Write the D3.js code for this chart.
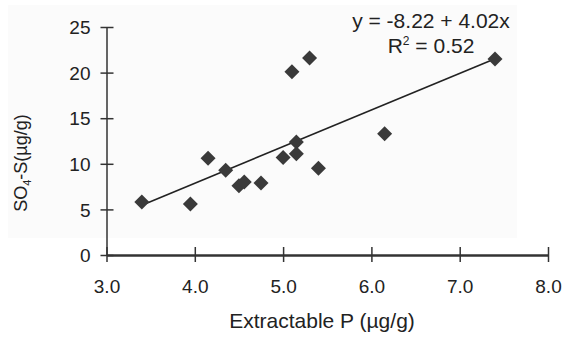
<!DOCTYPE html>
<html lang="en">
<head>
  <meta charset="UTF-8">
  <title>scatter</title>
  <script src="https://cdn.jsdelivr.net/npm/d3@7"></script>
  <style>
    body { margin: 0; background: #fff; }
    text { font-family: 'Liberation Sans', Arial, sans-serif; }
  </style>
</head>
<body>
<script>
  // data
  const xValues = [3.4, 3.95, 4.15, 4.35, 4.5, 4.56, 4.75, 5.0, 5.1, 5.15, 5.15, 5.3, 5.4, 6.15, 7.4]
  const yValues = [5.8, 5.6, 10.6, 9.3, 7.6, 8.0, 7.9, 10.7, 20.1, 12.4, 11.1, 21.6, 9.5, 13.3, 21.5]
  const xTicks = [3, 4, 5, 6, 7, 8]
  const yTicks = [0, 5, 10, 15, 20, 25]
  const fit = { a: -8.22, b: 4.02, r2: 0.52 }

  const width = 567
  const height = 337
  const inkColor = '#333'

  const svg = d3.select('body').append('svg').attr('width', width).attr('height', height)

  const x = d3.scaleLinear().domain([3, 8]).range([106.5, 548])
  const y = d3.scaleLinear().domain([0, 25]).range([255, 27])

  // faint scan background
  svg.append('rect')
    .attr('x', 8).attr('y', 5).attr('width', 509).attr('height', 233)
    .attr('fill', '#fbfbfb')

  const xAxis = g => g
    .attr('transform', `translate(0,${y(0)})`)
    .call(d3.axisBottom(x).tickValues(xTicks).tickFormat(d3.format('.1f')).tickSize(7).tickSizeOuter(0))
    .call(g => g.select('.domain').attr('stroke', inkColor).attr('stroke-width', 2.5))
    .call(g => g.selectAll('line').attr('stroke', inkColor).attr('stroke-width', 1.5).attr('y1', -8).attr('y2', 7))
    .call(g => g.selectAll('text')
      .attr('y', 38).attr('dy', null)
      .style('font-size', '19px').attr('fill', '#222'))

  const yAxis = g => g
    .attr('transform', `translate(${x(3)},0)`)
    .call(d3.axisLeft(y).tickValues(yTicks).tickSize(7).tickSizeOuter(0))
    .call(g => g.select('.domain').attr('stroke', inkColor).attr('stroke-width', 1.5))
    .call(g => g.selectAll('line').attr('stroke', inkColor).attr('stroke-width', 1.5).attr('x1', 7).attr('x2', -6))
    .call(g => g.selectAll('text')
      .attr('x', -16).attr('dy', '0.35em')
      .style('font-size', '19px').attr('fill', '#222'))

  svg.append('g').call(yAxis)
  svg.append('g').call(xAxis)

  // regression line
  const xMin = d3.min(xValues), xMax = d3.max(xValues)
  svg.append('line')
    .attr('x1', x(xMin)).attr('y1', y(fit.a + fit.b * xMin))
    .attr('x2', x(xMax)).attr('y2', y(fit.a + fit.b * xMax))
    .attr('stroke', '#222').attr('stroke-width', 1.6)

  // points
  svg.append('g')
    .selectAll('path')
    .data(xValues.map((d, i) => [d, yValues[i]]))
    .join('path')
    .attr('transform', d => `translate(${x(d[0])},${y(d[1])})`)
    .attr('d', 'M0,-7.5L7.5,0L0,7.5L-7.5,0Z')
    .attr('fill', '#3a3a3a')

  // equation
  svg.append('text')
    .attr('x', 431).attr('y', 28)
    .attr('text-anchor', 'middle')
    .style('font-size', '21px').attr('fill', '#222')
    .text(`y = ${fit.a} + ${fit.b.toFixed(2)}x`)
  const r2 = svg.append('text')
    .attr('x', 431).attr('y', 53)
    .attr('text-anchor', 'middle')
    .style('font-size', '21px').attr('fill', '#222')
  r2.append('tspan').text('R')
  r2.append('tspan').text('2').style('font-size', '12px').attr('dy', -8)
  r2.append('tspan').text(` = ${fit.r2.toFixed(2)}`).attr('dy', 8)

  // axis titles
  svg.append('text')
    .attr('x', 322).attr('y', 328)
    .attr('text-anchor', 'middle')
    .style('font-size', '21px').attr('fill', '#222')
    .text('Extractable P (\u00b5g/g)')

  const yTitle = svg.append('text')
    .attr('transform', 'translate(27,163) rotate(-90)')
    .attr('text-anchor', 'middle')
    .style('font-size', '18px').attr('fill', '#222')
  yTitle.append('tspan').text('SO')
  yTitle.append('tspan').text('4').style('font-size', '11px').attr('dy', 4)
  yTitle.append('tspan').text('-S(\u00b5g/g)').attr('dy', -4)
</script>
</body>
</html>
